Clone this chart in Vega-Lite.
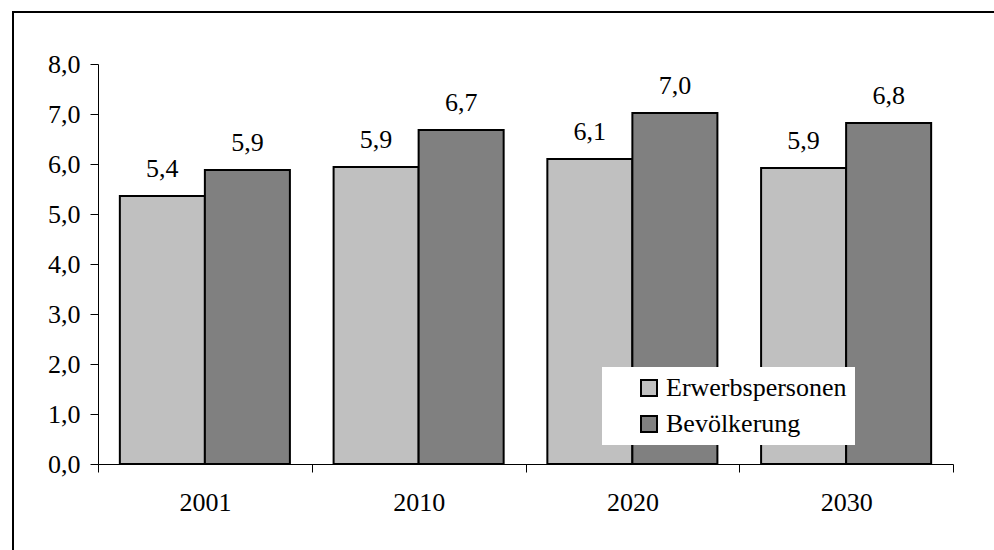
{
  "$schema": "https://vega.github.io/schema/vega-lite/v6.json",
  "width": 981,
  "height": 538,
  "autosize": {"type": "none"},
  "padding": {"left": 13, "top": 12, "right": 0, "bottom": 0},
  "background": "white",
  "config": {
    "font": "Liberation Serif",
    "view": {"stroke": "black", "strokeWidth": 2, "strokeDash": [981, 1519, 538]},
    "locale": {"number": {"decimal": ",", "thousands": ".", "grouping": [3], "currency": ["", " €"]}},
    "axis": {"labelFont": "Liberation Serif", "labelFontSize": 26, "labelColor": "black", "domainColor": "black", "tickColor": "black", "tickSize": 8, "grid": false, "title": null}
  },
  "data": {
    "values": [
      {"year": "2001", "series": "Erwerbspersonen", "value": 5.36},
      {"year": "2001", "series": "Bevölkerung", "value": 5.88},
      {"year": "2010", "series": "Erwerbspersonen", "value": 5.94},
      {"year": "2010", "series": "Bevölkerung", "value": 6.68},
      {"year": "2020", "series": "Erwerbspersonen", "value": 6.1},
      {"year": "2020", "series": "Bevölkerung", "value": 7.02},
      {"year": "2030", "series": "Erwerbspersonen", "value": 5.92},
      {"year": "2030", "series": "Bevölkerung", "value": 6.82}
    ]
  },
  "encoding": {
    "x": {
      "field": "year", "type": "nominal",
      "scale": {"range": [85, 940], "paddingInner": 0, "paddingOuter": 0},
      "axis": {"orient": "bottom", "offset": -86, "labelAngle": 0, "tickBand": "extent", "labelBaseline": "alphabetic", "labelPadding": 38}
    },
    "xOffset": {
      "field": "series", "type": "nominal",
      "scale": {"domain": ["Erwerbspersonen", "Bevölkerung"], "paddingInner": 0, "paddingOuter": 0.257}
    },
    "y": {
      "field": "value", "type": "quantitative",
      "scale": {"domain": [0, 8], "range": [452, 52], "nice": false},
      "axis": {"orient": "left", "offset": -85, "values": [0, 1, 2, 3, 4, 5, 6, 7, 8], "format": ".1f", "labelPadding": 10}
    }
  },
  "layer": [
    {
      "mark": {"type": "bar", "stroke": "black", "strokeWidth": 2},
      "encoding": {
        "color": {
          "field": "series", "type": "nominal",
          "scale": {"domain": ["Erwerbspersonen", "Bevölkerung"], "range": ["#C0C0C0", "#808080"]},
          "legend": {
            "orient": "none", "legendX": 589, "legendY": 355, "title": null,
            "fillColor": "white", "padding": 8, "rowPadding": 10,
            "symbolType": "square", "symbolSize": 256, "symbolStrokeColor": "black", "symbolStrokeWidth": 2, "symbolOpacity": 1,
            "symbolOffset": 26, "labelOffset": 4,
            "labelFont": "Liberation Serif", "labelFontSize": 26, "labelColor": "black", "labelLimit": 400
          }
        }
      }
    },
    {
      "mark": {"type": "text", "baseline": "alphabetic", "align": "center", "dy": -19, "fontSize": 26, "font": "Liberation Serif", "color": "black"},
      "encoding": {
        "text": {"field": "value", "type": "quantitative", "format": ".1f"}
      }
    }
  ]
}
